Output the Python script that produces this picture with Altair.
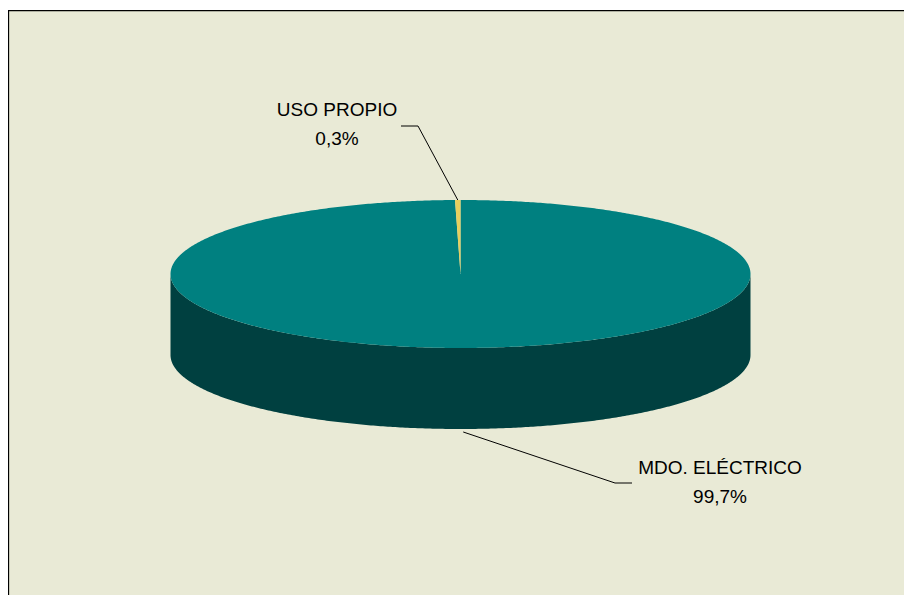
import numpy as np
import pandas as pd
import altair as alt

# ---- data ----
categories = ["MDO. ELÉCTRICO", "USO PROPIO"]
values = [99.7, 0.3]

# ---- style / layout ----
top_colors = {"MDO. ELÉCTRICO": "#008080", "USO PROPIO": "#E6CF5E"}
side_colors = {"MDO. ELÉCTRICO": "#004040", "USO PROPIO": "#8C7A2E"}
BG = "#E9EAD6"
FONT = "Liberation Sans"

W, H = 896, 585
CX, CY, RX, RY, DEPTH = 452.5, 264.0, 290.0, 74.0, 81.0

label_layout = {
    "USO PROPIO": {"elbow": (410, 116), "end": (393, 116), "text": (329, 106)},
    "MDO. ELÉCTRICO": {"elbow": (607, 473), "end": (624, 473), "text": (712, 464)},
}

total = float(sum(values))
cum = np.cumsum([0.0] + list(values))
starts = cum[:-1] / total * 360.0
ends = cum[1:] / total * 360.0
mids = (starts + ends) / 2.0


def ell(phi, dy=0.0):
    r = np.radians(phi)
    return [float(CX + RX * np.sin(r)), float(CY - RY * np.cos(r) + dy)]


def arc(a, b, dy=0.0, step=0.5):
    n = max(2, int(np.ceil(abs(b - a) / step)) + 1)
    return [ell(p, dy) for p in np.linspace(a, b, n)]


def feat(ring, **props):
    ring = ring + [ring[0]]
    return {"type": "Feature", "properties": props,
            "geometry": {"type": "Polygon", "coordinates": [ring]}}


frame = [feat([[0, 0], [W, 0], [W, H], [0, H]], name="frame")]
border_df = pd.DataFrame({"o": [0, 1, 2], "x": [0.5, 0.5, W + 5], "y": [H + 5, 0.5, 0.5]})

sides, tops = [], []
for name, s, e in zip(categories, starts, ends):
    lo, hi = max(s, 90.0), min(e, 270.0)
    if lo < hi:
        ring = arc(lo, hi) + arc(hi, lo, DEPTH)
        sides.append(feat(ring, name=name, color=side_colors[name]))
    ring = [[CX, CY]] + arc(s, e)
    tops.append(feat(ring, name=name, color=top_colors[name]))

line_rows, text_rows = [], []
for name, v, m in zip(categories, values, mids):
    if np.cos(np.radians(m)) > 0:
        p0 = ell(m)
    else:
        p0 = ell(m, DEPTH + 3)
    lay = label_layout[name]
    for o, (x, y) in enumerate([p0, lay["elbow"], lay["end"]]):
        line_rows.append({"name": name, "o": o, "x": x, "y": y})
    tx, ty = lay["text"]
    pct = f"{v:.1f}".replace(".", ",") + "%"
    text_rows.append({"name": name, "x": tx, "y": ty, "t": name})
    text_rows.append({"name": name, "x": tx, "y": ty + 29, "t": pct})

lines_df = pd.DataFrame(line_rows)
text_df = pd.DataFrame(text_rows)

proj = dict(type="identity", scale=1, translate=[0, 0])

frame_layer = alt.Chart(alt.InlineData(values=frame)).mark_geoshape(
    fill=BG, strokeWidth=0
).project(**proj)

border_layer = alt.Chart(border_df).mark_line(color="black", strokeWidth=1.3).encode(
    longitude="x:Q", latitude="y:Q", order="o:Q"
).project(**proj)

side_layer = alt.Chart(alt.InlineData(values=sides)).mark_geoshape(
    strokeWidth=0
).encode(fill=alt.Fill("properties.color:N", scale=None)).project(**proj)

top_layer = alt.Chart(alt.InlineData(values=tops)).mark_geoshape(
    strokeWidth=0
).encode(fill=alt.Fill("properties.color:N", scale=None)).project(**proj)

lead_layer = alt.Chart(lines_df).mark_line(color="black", strokeWidth=1).encode(
    longitude="x:Q", latitude="y:Q", detail="name:N", order="o:Q"
).project(**proj)

text_layer = alt.Chart(text_df).mark_text(
    font=FONT, fontSize=19, align="center", baseline="alphabetic", color="black"
).encode(longitude="x:Q", latitude="y:Q", text="t:N").project(**proj)

chart = alt.layer(
    frame_layer, border_layer, side_layer, top_layer, lead_layer, text_layer
).properties(
    width=W, height=H,
    autosize=alt.AutoSizeParams(type="none"),
    padding={"left": 0, "top": 2, "right": 0, "bottom": 0},
    background="white",
).configure_view(stroke=None, clip=True)

chart.save("out.html", embed_options={"renderer": "svg", "actions": False})
